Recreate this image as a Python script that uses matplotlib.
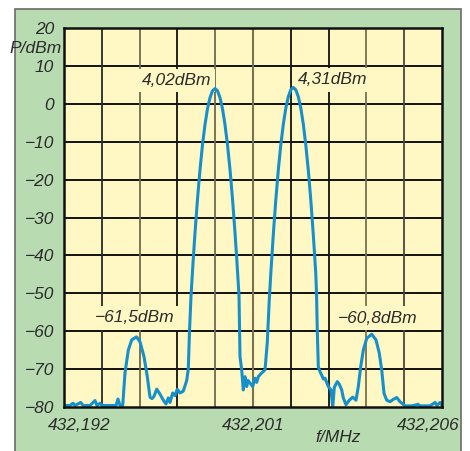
import matplotlib
matplotlib.use("Agg")
import matplotlib.pyplot as plt
import matplotlib.transforms as mtrans
from matplotlib.patches import Rectangle

# Spectrum trace: frequency (MHz) and level (dBm)
freq_mhz = [
    432.196000, 432.196159, 432.196238, 432.196291, 432.196442, 432.196503, 432.196688,
    432.196820, 432.196873, 432.196952, 432.197005, 432.197217, 432.197376, 432.197429,
    432.197482, 432.197553, 432.197614, 432.197701, 432.197791, 432.197918, 432.198011,
    432.198116, 432.198204, 432.198275, 432.198328, 432.198381, 432.198452, 432.198521,
    432.198585, 432.198646, 432.198698, 432.198759, 432.198804, 432.198876, 432.198937,
    432.198997, 432.199069, 432.199156, 432.199246, 432.199288,
    # first carrier
    432.199320, 432.199360, 432.199413, 432.199466, 432.199532, 432.199598, 432.199664,
    432.199730, 432.199796, 432.199862, 432.199929, 432.199995, 432.200061, 432.200127,
    432.200193, 432.200259, 432.200325, 432.200392, 432.200458, 432.200524, 432.200577,
    432.200630, 432.200656,
    # gap between carriers
    432.200701, 432.200743, 432.200788, 432.200833, 432.200868, 432.200921, 432.200992,
    432.201053, 432.201098, 432.201140, 432.201230, 432.201318,
    # second carrier
    432.201378, 432.201431, 432.201471, 432.201537, 432.201603, 432.201669, 432.201735,
    432.201802, 432.201868, 432.201934, 432.202000, 432.202066, 432.202132, 432.202198,
    432.202265, 432.202331, 432.202397, 432.202463, 432.202529, 432.202595, 432.202661,
    432.202680, 432.202701, 432.202728,
    # upper sideband and floor
    432.202773, 432.202818, 432.202860, 432.202905, 432.202992, 432.203063, 432.203109,
    432.203151, 432.203230, 432.203283, 432.203347, 432.203389, 432.203460, 432.203548,
    432.203638, 432.203725, 432.203786, 432.203849, 432.203918, 432.204008, 432.204140,
    432.204254, 432.204341, 432.204405, 432.204466, 432.204537, 432.204624, 432.204712,
    432.204802, 432.204889, 432.205021, 432.205206, 432.205365, 432.205418, 432.205683,
    432.205815, 432.205868, 432.205947, 432.206000,
]
level_dbm = [
    -79.6, -79.6, -79.0, -79.6, -78.8, -79.6, -79.6,
    -78.3, -79.6, -79.0, -79.6, -79.6, -79.6, -77.9,
    -79.6, -79.6, -71.0, -65.0, -62.3, -61.5, -62.8,
    -66.7, -72.0, -77.4, -77.8, -77.2, -75.3, -76.3,
    -77.4, -78.5, -79.2, -77.6, -78.8, -76.3, -77.0,
    -75.3, -76.3, -75.8, -73.0, -70.0,
    # first carrier
    -60.0, -50.7, -42.0, -34.0, -25.1, -17.4, -10.8,
    -5.5, -1.3, 1.6, 3.43, 4.02, 3.43, 1.6,
    -1.3, -5.5, -10.8, -17.4, -25.1, -34.0, -42.0,
    -50.7, -66.7,
    # gap between carriers
    -70.2, -75.5, -72.0, -74.6, -73.0, -73.7, -74.6,
    -72.4, -73.5, -72.0, -71.0, -70.2,
    # second carrier
    -63.0, -51.6, -44.8, -34.5, -25.4, -17.5, -10.9,
    -5.39, -1.15, 1.88, 3.70, 4.31, 3.70, 1.88,
    -1.15, -5.39, -10.9, -17.5, -25.4, -34.5, -44.8,
    -50.0, -60.0, -69.4,
    # upper sideband and floor
    -70.7, -71.6, -72.6, -72.4, -74.6, -75.5, -80.0,
    -74.8, -73.3, -74.0, -75.5, -77.6, -79.4, -78.2,
    -77.4, -78.2, -74.6, -69.4, -65.0, -61.9, -60.8,
    -62.3, -65.8, -70.2, -76.4, -78.2, -78.6, -78.0,
    -77.5, -78.6, -79.7, -79.7, -79.3, -79.7, -79.7,
    -78.8, -79.6, -78.8, -79.6,
]

# Labelled peaks
peak_freq = [432.199995, 432.202066, 432.197918, 432.204140]
peak_level = [4.02, 4.31, -61.5, -60.8]
peak_text = ["4,02dBm", "4,31dBm", "\u221261,5dBm", "\u221260,8dBm"]

y_ticks = [20, 10, 0, -10, -20, -30, -40, -50, -60, -70, -80]
y_tick_labels = ["20", "10", "0", "\u221210", "\u221220", "\u221230", "\u221240",
                 "\u221250", "\u221260", "\u221270", "\u221280"]
x_ticks = [432.196, 432.201, 432.206]
x_tick_labels = ["432,192", "432,201", "432,206"]

GREEN = "#b8dbb1"
YELLOW = "#fff8c4"
TRACE = "#1590cb"
TEXT = "#2b2b2b"
FONT = "Liberation Sans"
FS = 12.5

fig = plt.figure(figsize=(4.70, 4.51), dpi=100)
fig.patch.set_facecolor("white")

# green panel behind the chart
panel = Rectangle((15 / 470, -0.01), (461 - 15) / 470, (451 - 9) / 451 + 0.01,
                  transform=fig.transFigure, facecolor=GREEN,
                  edgecolor="#6a6a6a", linewidth=1.2, zorder=-10)
fig.patches.append(panel)

ax = fig.add_axes([64 / 470, 44 / 451, (442 - 64) / 470, (407 - 28) / 451])
ax.set_zorder(1)
ax.set_facecolor(YELLOW)
ax.set_xlim(432.196, 432.206)
ax.set_ylim(-80, 20)

# grid
for y in range(-70, 20, 10):
    ax.axhline(y, color="#111111", lw=1.4, zorder=1)
v_colors = ["#2a2a2a", "#6e6a50", "#111111", "#6e6a50", "#77724f",
            "#111111", "#111111", "#77724f", "#4a4838"]
for i, c in enumerate(v_colors):
    ax.axvline(432.196 + 0.001 * (i + 1), color=c, lw=1.5 if i == 4 else 1.3, zorder=1)

ax.plot(freq_mhz, level_dbm, color=TRACE, lw=2.2, zorder=4,
        solid_joinstyle="round", solid_capstyle="round")

offsets = [(-4, 8), (5, 7.5), (-2, 19), (6, 16)]
aligns = ["right", "left", "center", "center"]
for f, v, t, off, ha in zip(peak_freq, peak_level, peak_text, offsets, aligns):
    ax.annotate(t, xy=(f, v), xytext=off, textcoords="offset pixels",
                ha=ha, va="center", fontsize=FS, family=FONT, style="italic",
                color=TEXT, zorder=3,
                bbox=dict(boxstyle="square,pad=0.25", fc=YELLOW, ec="none"))

for s in ax.spines.values():
    s.set_color("#111111")
    s.set_linewidth(1.8)
    s.set_zorder(5)

ax.set_yticks(y_ticks, labels=y_tick_labels)
ax.set_xticks(x_ticks, labels=x_tick_labels)
ax.tick_params(length=0, pad=7, labelsize=FS, labelcolor=TEXT)
ax.tick_params(axis="x", pad=8)
for lab in ax.get_yticklabels() + ax.get_xticklabels():
    lab.set_family(FONT)
    lab.set_style("italic")

xl = ax.get_xticklabels()
xl[0].set_transform(xl[0].get_transform() + mtrans.ScaledTranslation(0.15, 0, fig.dpi_scale_trans))
xl[2].set_transform(xl[2].get_transform() + mtrans.ScaledTranslation(-0.14, 0, fig.dpi_scale_trans))

fig.text(62 / 470, 1 - 48.5 / 451, "P/dBm", ha="right", va="center", fontsize=FS,
         family=FONT, style="italic", color=TEXT, zorder=2)
fig.text(338 / 470, 1 - 437 / 451, "f/MHz", ha="center", va="center", fontsize=FS,
         family=FONT, style="italic", color=TEXT, zorder=2)

fig.savefig("out.png", dpi=100, facecolor="white")
